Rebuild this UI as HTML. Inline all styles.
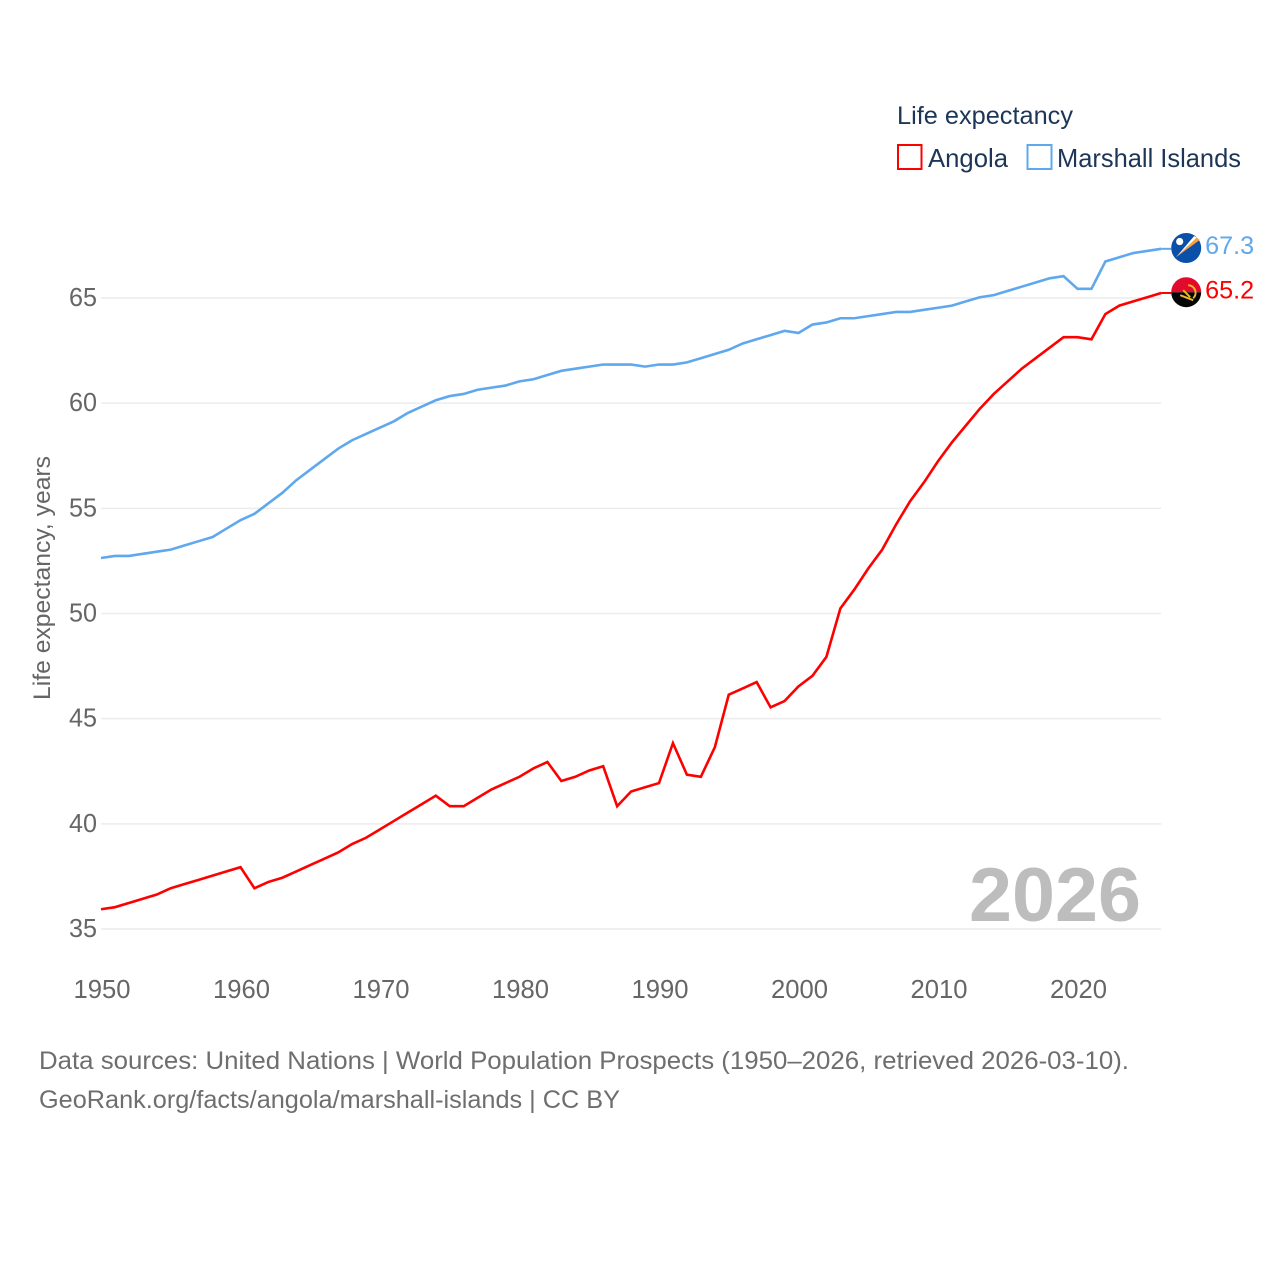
<!DOCTYPE html>
<html lang="en">
<head>
<meta charset="utf-8">
<title>Life expectancy: Angola and Marshall Islands</title>
<style>
  html, body { margin: 0; padding: 0; background: #fff; }
  #chart { display: block; width: 1280px; height: 1280px; }
  text { font-family: "Liberation Sans", Arial, sans-serif; }
</style>
</head>
<body>
<svg id="chart" xmlns="http://www.w3.org/2000/svg" width="1280" height="1280" viewBox="0 0 1280 1280">
  <rect x="0" y="0" width="1280" height="1280" fill="#ffffff"/>
  <g id="grid"></g>
  <g id="y-ticks"></g>
  <g id="x-ticks"></g>

  <text transform="translate(50 578) rotate(-90)" text-anchor="middle" font-size="24" fill="#666666" textLength="244" lengthAdjust="spacingAndGlyphs">Life expectancy, years</text>

  <text x="969" y="921" font-size="76" font-weight="700" fill="#bdbdbd" textLength="172" lengthAdjust="spacingAndGlyphs">2026</text>

  <g>
    <text x="897" y="124" font-size="25" fill="#1d3557" textLength="176" lengthAdjust="spacingAndGlyphs">Life expectancy</text>
    <g>
      <rect x="898" y="145" width="23.5" height="24" fill="#ffffff" stroke="#ff0000" stroke-width="2"/>
      <text x="928" y="167" font-size="26" fill="#1d3557" textLength="80" lengthAdjust="spacingAndGlyphs">Angola</text>
    </g>
    <g>
      <rect x="1027.5" y="145" width="24" height="24" fill="#ffffff" stroke="#5fa8ee" stroke-width="2"/>
      <text x="1057" y="167" font-size="26" fill="#1d3557" textLength="184" lengthAdjust="spacingAndGlyphs">Marshall Islands</text>
    </g>
  </g>

  <g id="series"></g>

  <g id="flag-marshall">
    <circle cx="0" cy="0" r="15" fill="#0b50a8"/>
    <path d="M-10 9 L8 -12 L13 -9 Z" fill="#ffffff"/>
    <path d="M-10 9 L10.5 -10.5 L13.5 -8 Z" fill="#f9a23c"/>
    <circle cx="-6.5" cy="-6.5" r="3.6" fill="#ffffff"/>
  </g>
  <g id="flag-angola">
    <path d="M-15 0 A15 15 0 0 1 15 0 Z" fill="#e30b2c"/>
    <path d="M-15 0 A15 15 0 0 0 15 0 Z" fill="#050505"/>
    <path d="M2 -7 A7.5 7.5 0 0 1 7 6" fill="none" stroke="#e8b92a" stroke-width="2"/>
    <path d="M-6 3 L7 8 M-3 -2 L4 5" fill="none" stroke="#e8b92a" stroke-width="2"/>
  </g>
  <text id="value-marshall" font-size="25" fill="#5fa8ee" textLength="49" lengthAdjust="spacingAndGlyphs"></text>
  <text id="value-angola" font-size="25" fill="#ff0000" textLength="49" lengthAdjust="spacingAndGlyphs"></text>

  <g>
    <text x="39" y="1069" font-size="25" fill="#6e6e6e" textLength="1090" lengthAdjust="spacingAndGlyphs">Data sources: United Nations | World Population Prospects (1950–2026, retrieved 2026-03-10).</text>
    <text x="39" y="1108" font-size="25" fill="#6e6e6e" textLength="581" lengthAdjust="spacingAndGlyphs">GeoRank.org/facts/angola/marshall-islands | CC BY</text>
  </g>
</svg>

<script>
const firstYear = 1950;
const angolaValues = [
  35.9, 36.0, 36.2, 36.4, 36.6, 36.9, 37.1, 37.3, 37.5, 37.7,
  37.9, 36.9, 37.2, 37.4, 37.7, 38.0, 38.3, 38.6, 39.0, 39.3,
  39.7, 40.1, 40.5, 40.9, 41.3, 40.8, 40.8, 41.2, 41.6, 41.9,
  42.2, 42.6, 42.9, 42.0, 42.2, 42.5, 42.7, 40.8, 41.5, 41.7,
  41.9, 43.8, 42.3, 42.2, 43.6, 46.1, 46.4, 46.7, 45.5, 45.8,
  46.5, 47.0, 47.9, 50.2, 51.1, 52.1, 53.0, 54.2, 55.3, 56.2,
  57.2, 58.1, 58.9, 59.7, 60.4, 61.0, 61.6, 62.1, 62.6, 63.1,
  63.1, 63.0, 64.2, 64.6, 64.8, 65.0, 65.2
];
const marshallValues = [
  52.6, 52.7, 52.7, 52.8, 52.9, 53.0, 53.2, 53.4, 53.6, 54.0,
  54.4, 54.7, 55.2, 55.7, 56.3, 56.8, 57.3, 57.8, 58.2, 58.5,
  58.8, 59.1, 59.5, 59.8, 60.1, 60.3, 60.4, 60.6, 60.7, 60.8,
  61.0, 61.1, 61.3, 61.5, 61.6, 61.7, 61.8, 61.8, 61.8, 61.7,
  61.8, 61.8, 61.9, 62.1, 62.3, 62.5, 62.8, 63.0, 63.2, 63.4,
  63.3, 63.7, 63.8, 64.0, 64.0, 64.1, 64.2, 64.3, 64.3, 64.4,
  64.5, 64.6, 64.8, 65.0, 65.1, 65.3, 65.5, 65.7, 65.9, 66.0,
  65.4, 65.4, 66.7, 66.9, 67.1, 67.2, 67.3
];
const yTickLabels = [35, 40, 45, 50, 55, 60, 65];
const xTickLabels = [1950, 1960, 1970, 1980, 1990, 2000, 2010, 2020];

const SVG_NS = 'http://www.w3.org/2000/svg';
function xScale(year) { return 101 + (year - 1950) * 13.95; }
function yScale(value) { return 929 - (value - 35) * 21.033; }
const lineOffsetY = -0.8;

const gridGroup = document.getElementById('grid');
const yTickGroup = document.getElementById('y-ticks');
const xTickGroup = document.getElementById('x-ticks');
const seriesGroup = document.getElementById('series');

yTickLabels.forEach(function (tick) {
  const line = document.createElementNS(SVG_NS, 'line');
  
  
  line.setAttribute('x1', xScale(1950));
  line.setAttribute('x2', xScale(2026));
  line.setAttribute('y1', yScale(tick));
  line.setAttribute('y2', yScale(tick));
  line.setAttribute('stroke', '#ececec');
  line.setAttribute('stroke-width', '1.5');
  gridGroup.appendChild(line);

  const label = document.createElementNS(SVG_NS, 'text');
  
  
  label.setAttribute('x', 69);
  label.setAttribute('y', yScale(tick) + 8);
  label.setAttribute('font-size', '26');
  label.setAttribute('fill', '#666666');
  label.setAttribute('textLength', '28');
  label.setAttribute('lengthAdjust', 'spacingAndGlyphs');
  label.textContent = tick;
  yTickGroup.appendChild(label);
});

xTickLabels.forEach(function (tick) {
  const label = document.createElementNS(SVG_NS, 'text');
  
  
  label.setAttribute('x', xScale(tick) + 1);
  label.setAttribute('y', 998);
  label.setAttribute('text-anchor', 'middle');
  label.setAttribute('font-size', '26');
  label.setAttribute('fill', '#666666');
  label.setAttribute('textLength', '57');
  label.setAttribute('lengthAdjust', 'spacingAndGlyphs');
  label.textContent = tick;
  xTickGroup.appendChild(label);
});

function linePoints(values) {
  return values.map(function (value, index) {
    return xScale(firstYear + index).toFixed(2) + ',' + (yScale(value) + lineOffsetY).toFixed(2);
  }).join(' ');
}

const angolaLine = document.createElementNS(SVG_NS, 'polyline');


angolaLine.setAttribute('points', linePoints(angolaValues));
angolaLine.setAttribute('fill', 'none');
angolaLine.setAttribute('stroke', '#ff0000');
angolaLine.setAttribute('stroke-width', '2.6');
seriesGroup.appendChild(angolaLine);

const marshallLine = document.createElementNS(SVG_NS, 'polyline');


marshallLine.setAttribute('points', linePoints(marshallValues));
marshallLine.setAttribute('fill', 'none');
marshallLine.setAttribute('stroke', '#5fa8ee');
marshallLine.setAttribute('stroke-width', '2.6');
seriesGroup.appendChild(marshallLine);

function placeEnd(values, color, flagId, valueId, connectorName) {
  const last = values[values.length - 1];
  const lastX = xScale(firstYear + values.length - 1);
  const lastY = yScale(last) + lineOffsetY;
  const connector = document.createElementNS(SVG_NS, 'line');
  
  
  connector.setAttribute('x1', lastX);
  connector.setAttribute('x2', lastX + 10);
  connector.setAttribute('y1', lastY);
  connector.setAttribute('y2', lastY);
  connector.setAttribute('stroke', color);
  connector.setAttribute('stroke-width', '2');
  seriesGroup.appendChild(connector);
  document.getElementById(flagId).setAttribute('transform', 'translate(' + (lastX + 25) + ' ' + (lastY - 0.8) + ')');
  const valueLabel = document.getElementById(valueId);
  valueLabel.setAttribute('x', lastX + 44);
  valueLabel.setAttribute('y', lastY + 5.3);
  valueLabel.textContent = last.toFixed(1);
}

placeEnd(marshallValues, '#5fa8ee', 'flag-marshall', 'value-marshall', 'marshall-islands-connector');
placeEnd(angolaValues, '#ff0000', 'flag-angola', 'value-angola', 'angola-connector');
</script>
</body>
</html>
